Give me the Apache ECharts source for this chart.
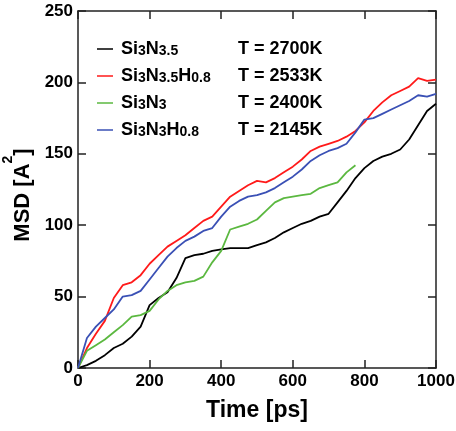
<!DOCTYPE html>
<html>
<head>
<meta charset="utf-8">
<script src="https://cdn.jsdelivr.net/npm/echarts@6/dist/echarts.min.js"></script>
<style>html,body{margin:0;padding:0;background:#fff}#c{width:456px;height:431px}</style>
</head>
<body>
<div id="c"></div>
<script>
const seriesNames = ['Si3N3.5', 'Si3N3.5H0.8', 'Si3N3', 'Si3N3H0.8'];
const temperatures = ['T = 2700K', 'T = 2533K', 'T = 2400K', 'T = 2145K'];
const seriesColors = ['#000000', '#ff1a1a', '#5bb840', '#3a50b5'];
const xTicks = [0, 200, 400, 600, 800, 1000];
const yTicks = [0, 50, 100, 150, 200, 250];
const times = [0,25,50,75,100,125,150,175,200,225,250,275,300,325,350,375,400,425,450,475,500,525,550,575,600,625,650,675,700,725,750,775,800,825,850,875,900,925,950,975,1000];
const msdSi3N35 = [0,2,5,9,14,17,22,29,44,49,53,63,77,79,80,82,83,84,84,84,86,88,91,95,98,101,103,106,108,116,124,133,140,145,148,150,153,160,170,180,185];
const msdSi3N35H08 = [0,14,24,33,49,58,60,65,73,79,85,89,93,98,103,106,113,120,124,128,131,130,133,137,141,146,152,155,157,159,162,166,172,180,186,191,194,197,203,201,202];
const msdSi3N3 = [0,12,16,20,25,30,36,37,40,48,54,58,60,61,64,74,82,97,99,101,104,110,116,119,120,121,122,126,128,130,137,142];
const msdSi3N3H08 = [0,21,29,35,41,50,51,54,62,70,78,84,89,92,96,98,106,113,117,120,121,123,126,130,134,139,145,149,152,154,157,165,174,175,178,181,184,187,191,190,192];

const allValues = [msdSi3N35, msdSi3N35H08, msdSi3N3, msdSi3N3H08];
const FONT = '"Liberation Sans", Arial, Helvetica, sans-serif';

function formula(name) {
  return '{g| }' + name.replace(/([A-Z][a-z]?)([\d.]+)/g, '{m|$1}{s|$2}');
}

const legendRich = {
  g: { width: 3, fontSize: 18, lineHeight: 18, padding: [0, 0, 9, 0], verticalAlign: 'top' },
  m: { fontSize: 18, fontWeight: 'bold', color: '#000', fontFamily: FONT, lineHeight: 18, padding: [0, 0, 9, 0], verticalAlign: 'top' },
  s: { fontSize: 14, fontWeight: 'bold', color: '#000', fontFamily: FONT, lineHeight: 14, verticalAlign: 'bottom' }
};

const axisLine = { show: true, onZero: false, lineStyle: { color: '#222', width: 1.5 } };
const tick = { show: true, inside: true, length: 8, lineStyle: { color: '#222', width: 1.5 } };
const labelStyle = { fontSize: 17, fontWeight: 'bold', color: '#000', fontFamily: FONT };
const plainNumber = function (v) { return String(v); };

const chart = echarts.init(document.getElementById('c'), null, { renderer: 'canvas' });
chart.setOption({
  animation: false,
  backgroundColor: '#fff',
  grid: { left: 78, right: 20, top: 11, bottom: 63, containLabel: false, outerBoundsMode: 'none' },
  legend: [
    {
      data: seriesNames,
      orient: 'vertical',
      left: 92,
      top: 35,
      icon: 'rect',
      itemWidth: 16,
      itemHeight: 1.5,
      itemGap: 0,
      formatter: formula,
      textStyle: { rich: legendRich },
      selectedMode: false
    },
    {
      data: seriesNames,
      orient: 'vertical',
      left: 228,
      top: 35,
      icon: 'none',
      itemWidth: 0,
      itemHeight: 1.5,
      itemGap: 0,
      formatter: function (name) { return '{m|' + temperatures[seriesNames.indexOf(name)] + '}'; },
      textStyle: { rich: legendRich },
      selectedMode: false
    }
  ],
  xAxis: [
    {
      type: 'value', min: xTicks[0], max: xTicks[xTicks.length - 1], interval: 200,
      position: 'bottom',
      name: 'Time [ps]', nameLocation: 'middle', nameGap: 31,
      nameTextStyle: { fontSize: 23, fontWeight: 'bold', color: '#000', fontFamily: FONT },
      axisLine: axisLine, axisTick: tick,
      axisLabel: Object.assign({ margin: 5, formatter: plainNumber }, labelStyle),
      splitLine: { show: false }
    },
    {
      type: 'value', min: xTicks[0], max: xTicks[xTicks.length - 1], interval: 200,
      position: 'top',
      axisLine: axisLine, axisTick: tick, axisLabel: { show: false }, splitLine: { show: false }
    }
  ],
  yAxis: [
    {
      type: 'value', min: yTicks[0], max: yTicks[yTicks.length - 1], interval: 50,
      position: 'left',
      name: '{m|MSD [A}{sup|2}{m|]}', nameLocation: 'middle', nameGap: 36,
      nameTextStyle: {
        padding: [0, 11, 0, 0],
        rich: {
          m: { fontSize: 22, fontWeight: 'bold', color: '#000', fontFamily: FONT, lineHeight: 22, verticalAlign: 'bottom' },
          sup: { fontSize: 14, fontWeight: 'bold', color: '#000', fontFamily: FONT, lineHeight: 14, padding: [0, 0, 19, 0], verticalAlign: 'bottom' }
        }
      },
      axisLine: axisLine, axisTick: tick,
      axisLabel: Object.assign({ margin: 5, formatter: plainNumber }, labelStyle),
      splitLine: { show: false }
    },
    {
      type: 'value', min: yTicks[0], max: yTicks[yTicks.length - 1], interval: 50,
      position: 'right',
      axisLine: axisLine, axisTick: tick, axisLabel: { show: false }, splitLine: { show: false }
    }
  ],
  series: seriesNames.map(function (name, i) {
    return {
      name: name,
      type: 'line',
      xAxisIndex: 0,
      yAxisIndex: 0,
      symbol: 'none',
      color: seriesColors[i],
      lineStyle: { color: seriesColors[i], width: 1.8 },
      data: allValues[i].map(function (v, j) { return [times[j], v]; })
    };
  })
});
</script>
</body>
</html>
